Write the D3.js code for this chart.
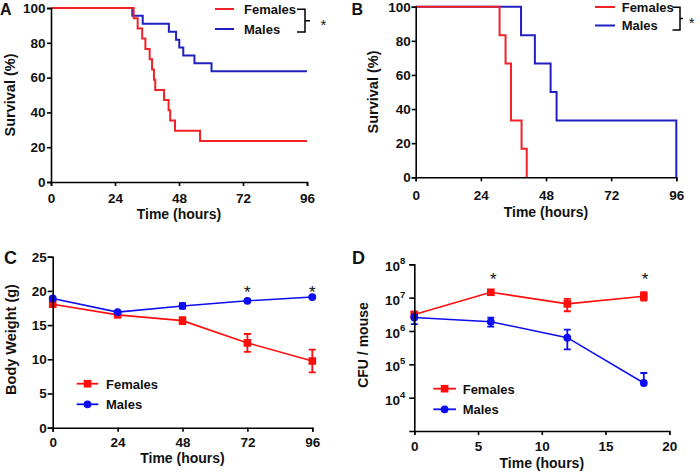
<!DOCTYPE html>
<html><head><meta charset="utf-8">
<script src="https://cdn.jsdelivr.net/npm/d3@7"></script>
<style>
body{margin:0;background:#fff}
svg{display:block;font-family:"Liberation Sans",Arial,Helvetica,sans-serif}
</style>
</head><body>
<svg id="chart" width="700" height="472"></svg>
<script>
// ---------- DATA ----------
const seriesNames = ["Females", "Males"];
// Panel A: Kaplan-Meier survival (step events)
const survATimesFemales = [31, 32.5, 34.2, 35.4, 37, 37.9, 38.6, 39.1, 42.4, 44.1, 44.7, 46.5, 55.9];
const survAFemales      = [94.1, 88.2, 82.4, 76.5, 70.6, 64.7, 58.8, 52.9, 47.1, 41.2, 35.3, 29.4, 23.5];
const survATimesMales   = [30.5, 34.4, 44.2, 46.9, 48.1, 49.6, 53.8, 60.2];
const survAMales        = [95.5, 90.9, 86.4, 81.8, 77.3, 72.7, 68.2, 63.6];
// Panel B
const survBTimesFemales = [30.9, 33.1, 35.1, 39, 40.9];
const survBFemales      = [83.3, 66.7, 33.3, 16.7, 0];
const survBTimesMales   = [38.8, 43.9, 49.7, 51.9, 96];
const survBMales        = [83.3, 66.7, 50, 33.3, 0];
const survTicks = [0, 24, 48, 72, 96];
const survYTicks = [0, 20, 40, 60, 80, 100];
// Panel C: body weight
const weightTimes = [0, 24, 48, 72, 96];
const weightFemales = [18.05, 16.5, 15.65, 12.4, 9.75];
const weightFemalesErr = [0.3, 0.2, 0.5, 1.3, 1.65];
const weightMales = [18.9, 16.9, 17.8, 18.55, 19.1];
const weightMalesErr = [0.2, 0.15, 0.4, 0.2, 0.15];
const weightYTicks = [0, 5, 10, 15, 20, 25];
const weightSigTimes = [72, 96];
// Panel D: CFU per mouse
const cfuTimes = [0, 6, 12, 18];
const cfuFemales   = [3.1e6, 1.45e7, 6.5e6, 1.1e7];
const cfuFemalesLo = [2.5e6, 1.2e7, 3.9e6, 8.2e6];
const cfuFemalesHi = [3.8e6, 1.65e7, 9.2e6, 1.45e7];
const cfuMales     = [2.55e6, 1.9e6, 6.3e5, 2.75e4];
const cfuMalesLo   = [1.6e6, 1.35e6, 2.8e5, 2.75e4];
const cfuMalesHi   = [3.1e6, 2.5e6, 1.1e6, 5.5e4];
const cfuXTicks = [0, 5, 10, 15, 20];
const cfuYTicks = [1e4, 1e5, 1e6, 1e7, 1e8];
const cfuSigTimes = [6.2, 18.1];

// ---------- STYLE ----------
const RED_S = "#ee2228", BLUE_S = "#2020c0";
const RED = "#ff0d0d", BLUE = "#0d0df0";
const svg = d3.select("#chart");

function styleAxis(g, fs) {
  g.select(".domain").attr("stroke", "#000").attr("stroke-width", 1.6);
  g.selectAll(".tick line").attr("stroke", "#000").attr("stroke-width", 1.6);
  g.selectAll(".tick text").attr("fill", "#111").attr("font-weight", "bold")
    .attr("font-size", fs || 13.5).attr("font-family", '"Liberation Sans",Arial,sans-serif');
}
function label(x, y, txt, size, opts = {}) {
  const t = svg.append("text").attr("x", x).attr("y", y).text(txt)
    .attr("font-size", size).attr("font-weight", opts.weight || "bold")
    .attr("fill", "#111").attr("text-anchor", opts.anchor || "start");
  if (opts.rotate) t.attr("transform", `rotate(-90,${x},${y})`);
  return t;
}
function stepPts(times, vals) {
  return [[0, 100]].concat(times.map((t, i) => [t, vals[i]]));
}

// ---------- PANEL A ----------
{
  const x = d3.scaleLinear().domain([0, 96]).range([51, 307]);
  const y = d3.scaleLinear().domain([0, 100]).range([182, 8]);
  const line = d3.line().x(d => x(d[0])).y(d => y(d[1])).curve(d3.curveStepAfter);
  const f = stepPts(survATimesFemales, survAFemales); f.push([96, survAFemales[survAFemales.length - 1]]);
  const m = stepPts(survATimesMales, survAMales); m.push([96, survAMales[survAMales.length - 1]]);
  svg.append("path").datum(m).attr("d", line).attr("fill", "none").attr("stroke", BLUE_S).attr("stroke-width", 2);
  svg.append("path").datum(f).attr("d", line).attr("fill", "none").attr("stroke", RED_S).attr("stroke-width", 2);
  svg.append("g").attr("transform", "translate(0,182)")
    .call(d3.axisBottom(x).tickValues(survTicks).tickSizeOuter(0).tickSize(4).tickPadding(7)).call(g => styleAxis(g));
  svg.append("g").attr("transform", "translate(51,0)")
    .call(d3.axisLeft(y).tickValues(survYTicks).tickSizeOuter(0).tickSize(4).tickPadding(1.5)).call(g => styleAxis(g));
  label(179, 219, "Time (hours)", 14, { anchor: "middle" });
  label(14.5, 95, "Survival (%)", 14.5, { anchor: "middle", rotate: true });
  label(0, 14.5, "A", 16);
  // legend
  [[RED_S, 9], [BLUE_S, 29]].forEach(([c, yy], i) => {
    svg.append("line").attr("x1", 215).attr("x2", 234).attr("y1", yy).attr("y2", yy).attr("stroke", c).attr("stroke-width", 2);
    label(244, yy + 4.8, seriesNames[i], 13);
  });
  svg.append("path").attr("d", "M297,9.3H305V32H297M305,20.7H310").attr("fill", "none").attr("stroke", "#000").attr("stroke-width", 1.5);
  label(323.5, 30, "*", 15, { anchor: "middle", weight: "normal" });
}

// ---------- PANEL B ----------
{
  const x = d3.scaleLinear().domain([0, 96]).range([415.7, 676.3]);
  const y = d3.scaleLinear().domain([0, 100]).range([177.3, 6.7]);
  const line = d3.line().x(d => x(d[0])).y(d => y(d[1])).curve(d3.curveStepAfter);
  const f = stepPts(survBTimesFemales, survBFemales);
  const m = stepPts(survBTimesMales, survBMales);
  svg.append("path").datum(m).attr("d", line).attr("fill", "none").attr("stroke", BLUE_S).attr("stroke-width", 2);
  svg.append("path").datum(f).attr("d", line).attr("fill", "none").attr("stroke", RED_S).attr("stroke-width", 2);
  svg.append("g").attr("transform", "translate(0,177.3)")
    .call(d3.axisBottom(x).tickValues(survTicks).tickSizeOuter(0).tickSize(4).tickPadding(9)).call(g => styleAxis(g));
  svg.append("g").attr("transform", "translate(415.7,0)")
    .call(d3.axisLeft(y).tickValues(survYTicks).tickSizeOuter(0).tickSize(4).tickPadding(1)).call(g => styleAxis(g));
  label(546, 216.7, "Time (hours)", 14, { anchor: "middle" });
  label(378, 92, "Survival (%)", 14.5, { anchor: "middle", rotate: true });
  label(351.5, 14.5, "B", 16);
  [[RED_S, 7], [BLUE_S, 25.5]].forEach(([c, yy], i) => {
    svg.append("line").attr("x1", 595).attr("x2", 615).attr("y1", yy).attr("y2", yy).attr("stroke", c).attr("stroke-width", 2);
    label(621.7, yy + 4.8, seriesNames[i], 13);
  });
  svg.append("path").attr("d", "M672.5,7.3H680V30H672.5M680,18.5H683").attr("fill", "none").attr("stroke", "#000").attr("stroke-width", 1.5);
  label(691.7, 28, "*", 15, { anchor: "middle", weight: "normal" });
}

// ---------- PANEL C ----------
{
  const x = d3.scaleLinear().domain([0, 96]).range([52.7, 312.3]);
  const y = d3.scaleLinear().domain([0, 25]).range([427.7, 256.7]);
  const sets = [
    { v: weightFemales, e: weightFemalesErr, c: RED, shape: "sq" },
    { v: weightMales, e: weightMalesErr, c: BLUE, shape: "ci" }
  ];
  sets.forEach(s => {
    const pts = weightTimes.map((t, i) => [t, s.v[i], s.e[i]]);
    svg.append("path").datum(pts).attr("d", d3.line().x(d => x(d[0])).y(d => y(d[1])))
      .attr("fill", "none").attr("stroke", s.c).attr("stroke-width", 1.6);
    pts.forEach(d => {
      const cx = x(d[0]), y1 = y(d[1] + d[2]), y2 = y(d[1] - d[2]);
      svg.append("path").attr("d", `M${cx},${y1}V${y2}M${cx - 3.5},${y1}H${cx + 3.5}M${cx - 3.5},${y2}H${cx + 3.5}`)
        .attr("stroke", s.c).attr("stroke-width", 1.8).attr("fill", "none");
      if (s.shape === "sq") svg.append("rect").attr("x", cx - 3.8).attr("y", y(d[1]) - 3.8).attr("width", 7.6).attr("height", 7.6).attr("fill", s.c);
      else svg.append("circle").attr("cx", cx).attr("cy", y(d[1])).attr("r", 3.9).attr("fill", s.c);
    });
  });
  svg.append("g").attr("transform", "translate(0,427.7)")
    .call(d3.axisBottom(x).tickValues(survTicks).tickSizeOuter(0).tickSize(4).tickPadding(6)).call(g => styleAxis(g));
  svg.append("g").attr("transform", "translate(52.7,0)")
    .call(d3.axisLeft(y).tickValues(weightYTicks).tickSizeOuter(0).tickSize(5).tickPadding(1)).call(g => styleAxis(g));
  weightSigTimes.forEach(t => label(x(t), 298, "*", 17, { anchor: "middle", weight: "normal" }));
  label(182.5, 462.7, "Time (hours)", 14, { anchor: "middle" });
  label(16, 339.5, "Body Weight (g)", 14.5, { anchor: "middle", rotate: true });
  label(4, 264, "C", 18);
  [[RED, 383.7, "sq"], [BLUE, 404.3, "ci"]].forEach(([c, yy, sh], i) => {
    svg.append("line").attr("x1", 76.7).attr("x2", 98.3).attr("y1", yy).attr("y2", yy).attr("stroke", c).attr("stroke-width", 1.8);
    if (sh === "sq") svg.append("rect").attr("x", 87.5 - 3.8).attr("y", yy - 3.8).attr("width", 7.6).attr("height", 7.6).attr("fill", c);
    else svg.append("circle").attr("cx", 87.5).attr("cy", yy).attr("r", 3.9).attr("fill", c);
    label(106, yy + 4.8, seriesNames[i], 13);
  });
}

// ---------- PANEL D ----------
{
  const x = d3.scaleLinear().domain([0, 20]).range([414.3, 669.3]);
  const y = d3.scaleLog().domain([1e3, 1e8]).range([431, 264.3]);
  const sets = [
    { v: cfuFemales, lo: cfuFemalesLo, hi: cfuFemalesHi, c: RED, shape: "sq" },
    { v: cfuMales, lo: cfuMalesLo, hi: cfuMalesHi, c: BLUE, shape: "ci" }
  ];
  sets.forEach(s => {
    const pts = cfuTimes.map((t, i) => [t, s.v[i], s.lo[i], s.hi[i]]);
    svg.append("path").datum(pts).attr("d", d3.line().x(d => x(d[0])).y(d => y(d[1])))
      .attr("fill", "none").attr("stroke", s.c).attr("stroke-width", 1.6);
    pts.forEach(d => {
      const cx = x(d[0]), y1 = y(d[3]), y2 = y(d[2]);
      let p = `M${cx},${y1}V${y2}M${cx - 3.5},${y1}H${cx + 3.5}`;
      if (d[2] < d[1]) p += `M${cx - 3.5},${y2}H${cx + 3.5}`;
      svg.append("path").attr("d", p).attr("stroke", s.c).attr("stroke-width", 1.8).attr("fill", "none");
      if (s.shape === "sq") svg.append("rect").attr("x", cx - 3.8).attr("y", y(d[1]) - 3.8).attr("width", 7.6).attr("height", 7.6).attr("fill", s.c);
      else svg.append("circle").attr("cx", cx).attr("cy", y(d[1])).attr("r", 3.9).attr("fill", s.c);
    });
  });
  svg.append("g").attr("transform", "translate(0,431)")
    .call(d3.axisBottom(x).tickValues(cfuXTicks).tickSizeOuter(0).tickSize(4).tickPadding(6)).call(g => styleAxis(g));
  const ya = svg.append("g").attr("transform", "translate(414.3,0)")
    .call(d3.axisLeft(y).tickValues(cfuYTicks).tickSizeOuter(0).tickSize(5).tickFormat(""));
  styleAxis(ya);
  ya.selectAll(".tick").each(function (d) {
    const t = d3.select(this).append("text").attr("x", -9).attr("y", 6.5).attr("text-anchor", "end")
      .attr("fill", "#111").attr("font-weight", "bold").attr("font-size", 13.5);
    t.append("tspan").text("10");
    t.append("tspan").attr("font-size", 9.5).attr("dy", -7).text(Math.round(Math.log10(d)));
  });
  cfuSigTimes.forEach(t => label(x(t), 285, "*", 17, { anchor: "middle", weight: "normal" }));
  label(541.8, 467.7, "Time (hours)", 14, { anchor: "middle" });
  label(367.5, 345, "CFU / mouse", 14, { anchor: "middle", rotate: true });
  label(352, 264, "D", 18);
  [[RED, 388.7, "sq"], [BLUE, 409.3, "ci"]].forEach(([c, yy, sh], i) => {
    svg.append("line").attr("x1", 433.3).attr("x2", 456).attr("y1", yy).attr("y2", yy).attr("stroke", c).attr("stroke-width", 1.8);
    if (sh === "sq") svg.append("rect").attr("x", 444.6 - 3.8).attr("y", yy - 3.8).attr("width", 7.6).attr("height", 7.6).attr("fill", c);
    else svg.append("circle").attr("cx", 444.6).attr("cy", yy).attr("r", 3.9).attr("fill", c);
    label(462.7, yy + 4.8, seriesNames[i], 13);
  });
}
</script>
</body></html>
